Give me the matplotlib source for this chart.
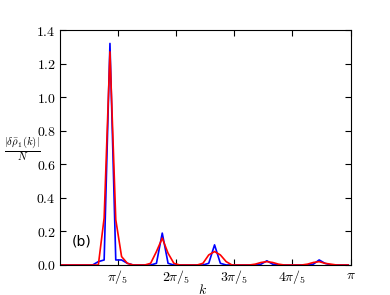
import numpy as np
import matplotlib
matplotlib.use('Agg')
import matplotlib.pyplot as plt

plt.rcParams['mathtext.fontset'] = 'cm'
plt.rcParams['font.family'] = 'serif'
plt.rcParams['font.serif'] = ['DejaVu Serif']

# k grid: (n + 0.6) * pi/50
n = np.arange(-1, 50)
k = (n + 0.6) * np.pi / 50

blue = np.zeros(len(n))
red = np.zeros(len(n))
i0 = 1  # index of n=0
blue[[i0 + j for j in [6, 7, 8, 9, 10, 11]]] = [0.02, 0.03, 1.32, 0.03, 0.03, 0.01]
blue[[i0 + j for j in [16, 17, 18]]] = [0.01, 0.19, 0.01]
blue[[i0 + j for j in [25, 26, 27]]] = [0.01, 0.12, 0.01]
blue[[i0 + j for j in [34, 35, 36]]] = [0.005, 0.025, 0.005]
blue[[i0 + j for j in [43, 44, 45]]] = [0.005, 0.03, 0.01]

red[[i0 + j for j in [7, 8, 9, 10, 11]]] = [0.28, 1.27, 0.27, 0.05, 0.01]
red[[i0 + j for j in [15, 16, 17, 18, 19]]] = [0.01, 0.08, 0.16, 0.07, 0.01]
red[[i0 + j for j in [24, 25, 26, 27, 28]]] = [0.01, 0.06, 0.08, 0.06, 0.02]
red[[i0 + j for j in [33, 34, 35, 36, 37]]] = [0.005, 0.015, 0.02, 0.015, 0.005]
red[[i0 + j for j in [42, 43, 44, 45, 46]]] = [0.005, 0.015, 0.02, 0.01, 0.005]

xticks = [np.pi / 5, 2 * np.pi / 5, 3 * np.pi / 5, 4 * np.pi / 5, np.pi]
xticklabels = [r'$\pi/_5$', r'$2\pi/_5$', r'$3\pi/_5$', r'$4\pi/_5$', r'$\pi$']
yticks = [0.0, 0.2, 0.4, 0.6, 0.8, 1.0, 1.2, 1.4]

fig = plt.figure(figsize=(3.9, 2.95), dpi=100)
ax = fig.add_axes([0.1538, 0.1017, 0.745, 0.7966])
ax.plot(k, blue, color='blue', lw=1.2)
ax.plot(k, red, color='red', lw=1.2)
ax.set_xlim(0, np.pi)
ax.set_ylim(0, 1.4)
ax.set_xticks(xticks)
ax.set_xticklabels(xticklabels, fontsize=10)
ax.set_yticks(yticks)
ax.set_yticklabels([r'$%.1f$' % v for v in yticks], fontsize=10)
ax.tick_params(direction='in', top=True, right=True, length=4, width=0.8)
ax.tick_params(axis='x', pad=2)
ax.tick_params(axis='y', pad=3)
ax.set_xlabel(r'$k$', fontsize=10)
ax.xaxis.set_label_coords(0.49, -0.075)
ax.set_ylabel(r'$\frac{|\delta\bar{\rho}_1(k)|}{N}$', rotation=0, fontsize=11,
              ha='center', va='center')
ax.yaxis.set_label_coords(-0.13, 0.494)
ax.text(0.04, 0.085, '(b)', transform=ax.transAxes, fontsize=10, family='DejaVu Sans')

fig.savefig('out.png', dpi=100)
